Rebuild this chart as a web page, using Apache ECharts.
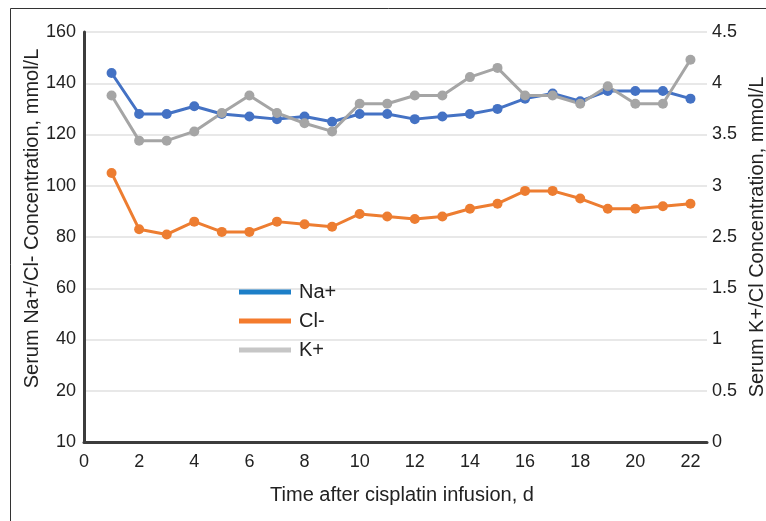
<!DOCTYPE html>
<html>
<head>
<meta charset="utf-8">
<script src="https://cdn.jsdelivr.net/npm/echarts@6/dist/echarts.min.js"></script>
<style>
html,body{margin:0;padding:0;background:#fff;}
#chart{width:766px;height:521px;}
</style>
</head>
<body>
<div id="chart"></div>
<script>
// Day after cisplatin infusion
var days = [1,2,3,4,5,6,7,8,9,10,11,12,13,14,15,16,17,18,19,20,21,22];
// Serum Na+ (mmol/L), left axis
var naValues = [144,128,128,131,128,127,126,127,125,128,128,126,127,128,130,134,136,133,137,137,137,134];
// Serum Cl- (mmol/L), left axis
var clValues = [105,83,81,86,82,82,86,85,84,89,88,87,88,91,93,98,98,95,91,91,92,93];
// Serum K+ (mmol/L), right axis
var kValues = [3.88,3.44,3.44,3.53,3.71,3.88,3.71,3.61,3.53,3.80,3.80,3.88,3.88,4.06,4.15,3.88,3.88,3.80,3.97,3.80,3.80,4.23];
// Tick labels as printed in the figure
var leftTickLabels = {0:'10',20:'20',40:'40',60:'60',80:'80',100:'100',120:'120',140:'140',160:'160'};
var rightTickLabels = {'0.5':'0','1':'0.5','1.5':'1','2':'1.5','2.5':'2.5','3':'3','3.5':'3.5','4':'4','4.5':'4.5'};

function pairs(vals){ return days.map(function(d,i){ return [d, vals[i]]; }); }

var FONT = "'Liberation Sans', Arial, Helvetica, sans-serif";
var TXT = '#222222';

var chart = echarts.init(document.getElementById('chart'), null, {renderer:'canvas'});
chart.setOption({
  animation: false,
  backgroundColor: '#ffffff',
  textStyle: {fontFamily: FONT},
  graphic: [{
    type: 'polyline',
    shape: {points: [[10.5,521],[10.5,8.5],[766,8.5]]},
    style: {stroke: '#333', lineWidth: 1, fill: null}
  }],
  grid: {left: 84, right: 59, top: 32, bottom: 79, containLabel: false, outerBoundsMode: 'none'},
  legend: {
    orient: 'vertical',
    left: 234, top: 277,
    itemWidth: 52, itemHeight: 5, itemGap: 9,
    textStyle: {fontSize: 20, color: TXT, fontFamily: FONT, padding: [0,0,0,3]},
    data: [
      {name: 'Na+', icon: 'rect', itemStyle: {color: '#1d7fc8'}},
      {name: 'Cl-', icon: 'rect', itemStyle: {color: '#f47b2d'}},
      {name: 'K+', icon: 'rect', itemStyle: {color: '#c6c6c6'}}
    ]
  },
  xAxis: {
    type: 'value', min: 0, max: 22.6, interval: 2,
    name: 'Time after cisplatin infusion, d',
    nameLocation: 'middle', nameGap: 43, nameMoveOverlap: false,
    nameTextStyle: {fontSize: 20, color: TXT, fontFamily: FONT, padding: [0,0,0,13]},
    axisLine: {show: true, lineStyle: {color: '#3c3c3c', width: 3}},
    axisTick: {show: false},
    splitLine: {show: false},
    axisLabel: {fontSize: 18, color: TXT, margin: 11, showMaxLabel: false, fontFamily: FONT}
  },
  yAxis: [{
    type: 'value', min: 0, max: 160, interval: 20, position: 'left',
    name: 'Serum Na+/Cl- Concentration, mmol/L',
    nameLocation: 'middle', nameGap: 42, nameMoveOverlap: false,
    nameTextStyle: {fontSize: 20, color: TXT, fontFamily: FONT, padding: [0,0,0,37]},
    axisLine: {show: true, lineStyle: {color: '#3c3c3c', width: 3}},
    axisTick: {show: false},
    splitLine: {show: true, lineStyle: {color: '#e8e8e8', width: 2}},
    axisLabel: {fontSize: 18, color: TXT, margin: 8, fontFamily: FONT,
      formatter: function(v){ return leftTickLabels[v] !== undefined ? leftTickLabels[v] : ''; }}
  }, {
    type: 'value', min: 0.5, max: 4.5, interval: 0.5, position: 'right',
    name: 'Serum K+/Cl Concentration, mmol/L',
    nameLocation: 'middle', nameGap: 40, nameMoveOverlap: false,
    nameTextStyle: {fontSize: 20, color: TXT, fontFamily: FONT},
    axisLine: {show: false},
    axisTick: {show: false},
    splitLine: {show: false},
    axisLabel: {fontSize: 18, color: TXT, margin: 5, fontFamily: FONT,
      formatter: function(v){ var k = String(Math.round(v*10)/10); return rightTickLabels[k] !== undefined ? rightTickLabels[k] : ''; }}
  }],
  series: [{
    name: 'Na+', type: 'line', yAxisIndex: 0, data: pairs(naValues),
    symbol: 'circle', symbolSize: 10,
    lineStyle: {color: '#4472C4', width: 3},
    itemStyle: {color: '#4472C4'}
  }, {
    name: 'Cl-', type: 'line', yAxisIndex: 0, data: pairs(clValues),
    symbol: 'circle', symbolSize: 10,
    lineStyle: {color: '#ED7D31', width: 3},
    itemStyle: {color: '#ED7D31'}
  }, {
    name: 'K+', type: 'line', yAxisIndex: 1, data: pairs(kValues),
    symbol: 'circle', symbolSize: 10,
    lineStyle: {color: '#A5A5A5', width: 3},
    itemStyle: {color: '#A5A5A5'}
  }]
});
</script>
</body>
</html>
